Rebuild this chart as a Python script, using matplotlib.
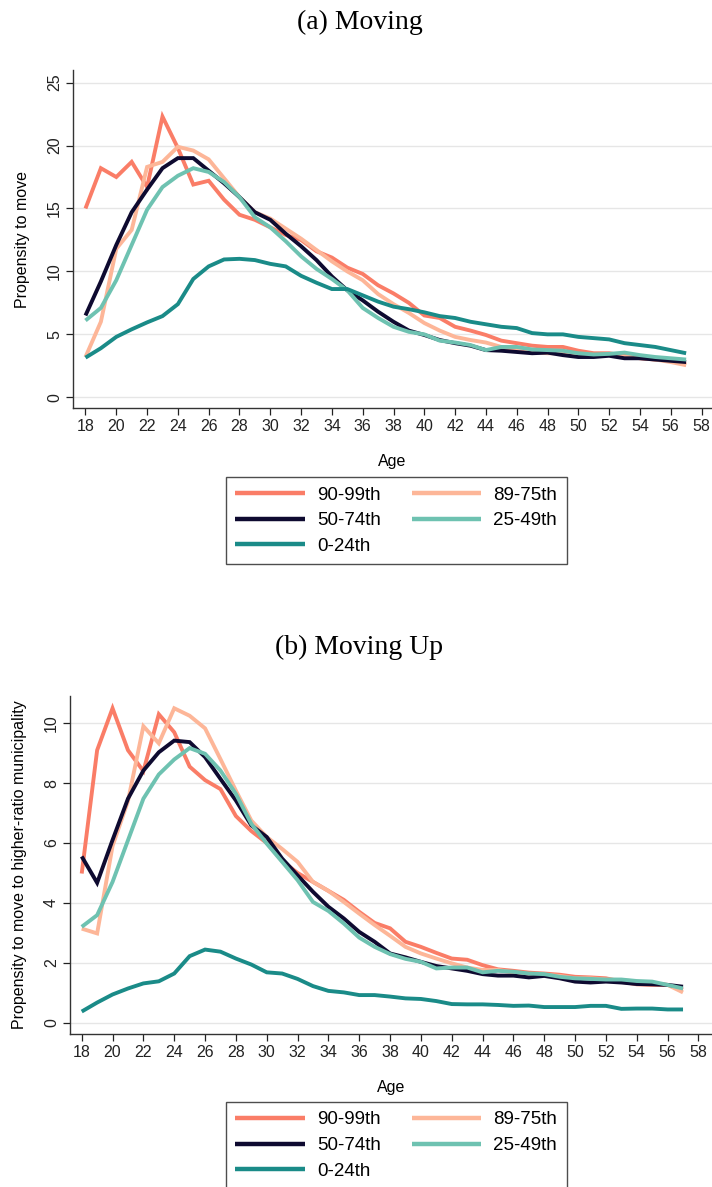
import matplotlib
matplotlib.use("Agg")
import matplotlib.pyplot as plt
from matplotlib import font_manager

# --- data ---
ages = list(range(18, 58))
groups = ["90-99th", "89-75th", "50-74th", "25-49th", "0-24th"]
colors = ["#FA7D67", "#FDB698", "#0E0A30", "#6EC2B1", "#1A8B88"]

move_90_99 = [15.0, 18.2, 17.5, 18.7, 16.7, 22.3, 19.8, 16.9, 17.2, 15.7,
              14.5, 14.1, 13.5, 12.9, 12.5, 11.6, 11.1, 10.3, 9.8, 8.9,
              8.25, 7.5, 6.5, 6.3, 5.6, 5.3, 4.95, 4.5, 4.3, 4.1,
              4.0, 4.0, 3.7, 3.5, 3.5, 3.3, 3.1, 3.0, 2.9, 2.6]
move_75_89 = [3.2, 6.0, 11.8, 13.3, 18.3, 18.7, 19.9, 19.6, 18.9, 17.4,
              15.9, 14.7, 14.2, 13.4, 12.6, 11.7, 10.8, 10.0, 9.3, 8.2,
              7.4, 6.7, 5.9, 5.3, 4.8, 4.55, 4.35, 4.0, 3.75, 3.6,
              3.5, 3.5, 3.35, 3.35, 3.35, 3.2, 3.15, 3.0, 2.8, 2.55]
move_50_74 = [6.5, 9.2, 12.1, 14.7, 16.5, 18.2, 19.0, 19.0, 18.0, 17.0,
              15.9, 14.7, 14.1, 13.0, 12.0, 10.9, 9.6, 8.5, 7.7, 6.8,
              6.0, 5.3, 4.95, 4.55, 4.3, 4.1, 3.75, 3.7, 3.6, 3.5,
              3.55, 3.35, 3.2, 3.2, 3.3, 3.1, 3.1, 3.0, 2.9, 2.8]
move_25_49 = [6.1, 7.1, 9.3, 12.1, 14.9, 16.7, 17.6, 18.2, 17.9, 17.1,
              15.9, 14.3, 13.5, 12.4, 11.2, 10.2, 9.4, 8.5, 7.1, 6.3,
              5.6, 5.2, 5.0, 4.5, 4.35, 4.15, 3.75, 4.0, 4.0, 3.8,
              3.75, 3.7, 3.5, 3.4, 3.45, 3.55, 3.35, 3.2, 3.1, 3.0]
move_0_24 = [3.15, 3.9, 4.8, 5.4, 5.95, 6.45, 7.4, 9.4, 10.4, 10.95,
             11.0, 10.9, 10.6, 10.4, 9.65, 9.1, 8.6, 8.6, 8.1, 7.6,
             7.2, 7.0, 6.75, 6.45, 6.3, 6.0, 5.8, 5.6, 5.5, 5.1,
             5.0, 5.0, 4.8, 4.7, 4.6, 4.3, 4.15, 4.0, 3.75, 3.5]

up_90_99 = [4.98, 9.1, 10.5, 9.1, 8.4, 10.3, 9.7, 8.55, 8.1, 7.8,
            6.9, 6.4, 6.0, 5.4, 5.0, 4.7, 4.4, 4.1, 3.7, 3.33,
            3.15, 2.7, 2.53, 2.33, 2.14, 2.1, 1.92, 1.78, 1.73, 1.67,
            1.64, 1.6, 1.53, 1.51, 1.48, 1.37, 1.28, 1.26, 1.26, 1.1]
up_75_89 = [3.14, 2.98, 5.9, 7.4, 9.9, 9.33, 10.5, 10.25, 9.83, 8.8,
            7.75, 6.75, 6.2, 5.8, 5.37, 4.7, 4.4, 4.03, 3.64, 3.26,
            2.9, 2.53, 2.31, 2.14, 1.98, 1.84, 1.76, 1.76, 1.67, 1.6,
            1.6, 1.56, 1.48, 1.48, 1.44, 1.42, 1.37, 1.31, 1.26, 1.01]
up_50_74 = [5.55, 4.67, 6.1, 7.48, 8.42, 9.03, 9.42, 9.37, 8.87, 8.14,
            7.42, 6.59, 6.2, 5.48, 4.92, 4.37, 3.87, 3.48, 3.03, 2.7,
            2.31, 2.18, 2.03, 1.89, 1.81, 1.73, 1.62, 1.57, 1.57, 1.51,
            1.56, 1.48, 1.37, 1.34, 1.37, 1.34, 1.29, 1.28, 1.26, 1.2]
up_25_49 = [3.2, 3.59, 4.7, 6.09, 7.48, 8.29, 8.79, 9.17, 8.98, 8.42,
            7.64, 6.64, 5.98, 5.37, 4.76, 4.03, 3.73, 3.31, 2.84, 2.53,
            2.29, 2.13, 2.03, 1.81, 1.84, 1.84, 1.68, 1.73, 1.7, 1.64,
            1.62, 1.53, 1.48, 1.46, 1.44, 1.44, 1.39, 1.37, 1.26, 1.14]
up_0_24 = [0.37, 0.67, 0.94, 1.14, 1.31, 1.38, 1.64, 2.22, 2.44, 2.37,
           2.14, 1.94, 1.68, 1.64, 1.46, 1.22, 1.06, 1.01, 0.92, 0.92,
           0.87, 0.81, 0.79, 0.72, 0.62, 0.61, 0.61, 0.59, 0.56, 0.57,
           0.52, 0.52, 0.52, 0.56, 0.56, 0.46, 0.47, 0.47, 0.44, 0.44]

moving = [move_90_99, move_75_89, move_50_74, move_25_49, move_0_24]
moving_up = [up_90_99, up_75_89, up_50_74, up_25_49, up_0_24]

# --- fonts ---
installed = {f.name for f in font_manager.fontManager.ttflist}
sans = "Liberation Sans Narrow" if "Liberation Sans Narrow" in installed else "Liberation Sans"
plt.rcParams["font.family"] = [sans, "DejaVu Sans"]
serif = ["Liberation Serif", "DejaVu Serif"]

fig = plt.figure(figsize=(7.12, 11.87), dpi=100)
W, H = 712, 1187


def panel(rect, series, yticks, ylim, xlim, ylabel, title, title_y, legend_top):
    ax = fig.add_axes(rect)
    handles = {}
    for name, vals, col in zip(groups, series, colors):
        (ln,) = ax.plot(ages, vals, color=col, lw=2.8, solid_joinstyle="miter",
                        solid_capstyle="butt", label=name)
        handles[name] = ln
    ax.set_xlim(*xlim)
    ax.set_ylim(*ylim)
    ax.set_xticks(range(18, 59, 2))
    ax.set_yticks(yticks)
    ax.tick_params(axis="x", length=5, width=0.9, pad=3, labelsize=11.5, colors="#222222")
    ax.tick_params(axis="y", length=5, width=0.9, pad=3, labelsize=11.5, colors="#222222",
                   labelrotation=90)
    for lab in ax.get_yticklabels():
        lab.set_va("center")
    ax.grid(axis="y", color="#E6E6E6", lw=1.0)
    ax.set_axisbelow(True)
    for s in ("top", "right"):
        ax.spines[s].set_visible(False)
    for s in ("left", "bottom"):
        ax.spines[s].set_color("#333333")
        ax.spines[s].set_linewidth(1.0)
    ax.set_xlabel("Age", fontsize=11.5, labelpad=14)
    ax.set_ylabel(ylabel, fontsize=11.5, labelpad=12)
    fig.text(0.505, 1 - title_y / H, title, ha="center", va="center",
             fontsize=20, family=serif)
    order = ["90-99th", "50-74th", "0-24th", "89-75th", "25-49th"]
    leg = fig.legend([handles[k] for k in order], order, ncol=2,
                     loc="upper left", bbox_to_anchor=(226 / W, 1 - legend_top / H),
                     borderaxespad=0, fontsize=13.5, handlelength=3.7, handletextpad=0.65,
                     columnspacing=1.65, labelspacing=0.45, borderpad=0.5,
                     fancybox=False, frameon=True, edgecolor="#222222")
    leg.get_frame().set_linewidth(1.0)
    for ln in leg.get_lines():
        ln.set_linewidth(3.2)
    return ax


panel([73 / W, 1 - 408 / H, 1 - 73 / W, 338 / H], moving, range(0, 26, 5),
      (-0.85, 26.0), (17.19, 58.68), "Propensity to move", "(a) Moving", 22, 477)
panel([70 / W, 1 - 1034 / H, 1 - 70 / W, 338 / H], moving_up, range(0, 11, 2),
      (-0.38, 10.91), (17.24, 58.88), "Propensity to move to higher-ratio municipality",
      "(b) Moving Up", 647, 1102)

fig.savefig("out.png", dpi=100)
